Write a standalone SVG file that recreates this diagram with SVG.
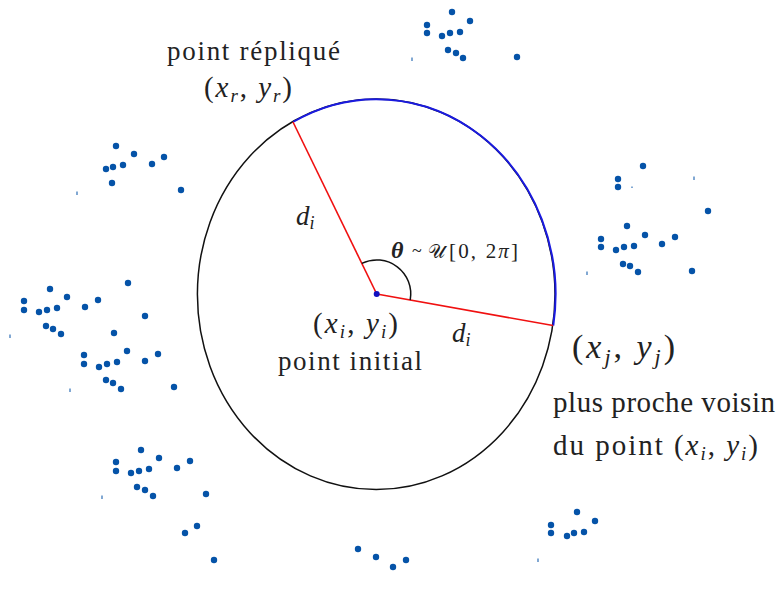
<svg xmlns="http://www.w3.org/2000/svg" width="777" height="598" viewBox="0 0 777 598">
<defs>
<style>
.t{font-family:"Liberation Serif","Times New Roman",serif;fill:#222}
.m{font-family:"Liberation Serif","Times New Roman",serif;font-style:italic;fill:#222}
.d{fill:#0553a8}
.k{fill:#0553a8}
</style>
</defs>
<rect width="777" height="598" fill="#fff"/>
<g id="circle">
<ellipse cx="376.2" cy="294.3" rx="178.8" ry="195.3" fill="none" stroke="#111" stroke-width="1.5"/>
<path d="M293,122 A178.8,195.3 0 0 1 553.3,325.5" fill="none" stroke="#1a1ae0" stroke-width="2"/>
</g>
<g id="connectors">
<line x1="376.7" y1="294" x2="293" y2="122" stroke="#f01010" stroke-width="1.6"/>
<line x1="376.7" y1="294" x2="553" y2="325.5" stroke="#f01010" stroke-width="1.6"/>
<path d="M361.8,263.4 A34,34 0 0 1 410.2,300" fill="none" stroke="#111" stroke-width="1.5"/>
</g>
<g id="center-point"><circle cx="376.7" cy="294" r="3" fill="#1010c0"/></g>
<g id="label-replique">
<text class="t" x="167" y="60" font-size="27" textLength="173" lengthAdjust="spacing">point répliqué</text>
<text class="t" x="204" y="97" font-size="29" textLength="88" lengthAdjust="spacing">(<tspan class="m">x</tspan><tspan class="m" font-size="19" dy="5">r</tspan><tspan dy="-5">, </tspan><tspan class="m">y</tspan><tspan class="m" font-size="19" dy="5">r</tspan><tspan dy="-5">)</tspan></text>
</g>
<g id="label-di-top">
<text class="m" x="296" y="225" font-size="27">d<tspan font-size="18" dy="4">i</tspan></text>
</g>
<g id="label-theta">
<text class="m" x="391" y="258" font-size="24" font-weight="bold">θ</text>
<text class="t" x="412" y="257" font-size="18" fill="#999">~</text>
<text class="t" x="428" y="258" font-size="19">𝒰</text>
<text class="t" x="449" y="258" font-size="21" textLength="69" lengthAdjust="spacing">[0, 2<tspan font-style="italic">π</tspan>]</text>
</g>
<g id="label-initial">
<text class="t" x="313" y="333" font-size="29" textLength="85" lengthAdjust="spacing">(<tspan class="m">x</tspan><tspan class="m" font-size="19" dy="5">i</tspan><tspan dy="-5">, </tspan><tspan class="m">y</tspan><tspan class="m" font-size="19" dy="5">i</tspan><tspan dy="-5">)</tspan></text>
<text class="t" x="278" y="370" font-size="27" textLength="144" lengthAdjust="spacing">point initial</text>
</g>
<g id="label-di-bottom">
<text class="m" x="452" y="342" font-size="27">d<tspan font-size="18" dy="4">i</tspan></text>
</g>
<g id="label-voisin">
<text class="t" x="572" y="358" font-size="34" textLength="103" lengthAdjust="spacing">(<tspan class="m">x</tspan><tspan class="m" font-size="22" dy="6">j</tspan><tspan dy="-6">, </tspan><tspan class="m">y</tspan><tspan class="m" font-size="22" dy="6">j</tspan><tspan dy="-6">)</tspan></text>
<text class="t" x="553" y="412" font-size="29" textLength="222" lengthAdjust="spacing">plus proche voisin</text>
<text class="t" x="553" y="455" font-size="29" textLength="205" lengthAdjust="spacing">du point (<tspan class="m">x</tspan><tspan class="m" font-size="19" dy="5">i</tspan><tspan dy="-5">, </tspan><tspan class="m">y</tspan><tspan class="m" font-size="19" dy="5">i</tspan><tspan dy="-5">)</tspan></text>
</g>
<g id="points">
<g class="d">
<circle cx="452" cy="12" r="3.2"/><circle cx="427" cy="25" r="3.2"/><circle cx="470" cy="21" r="3.2"/><circle cx="427" cy="33" r="3.2"/><circle cx="442" cy="36" r="3.2"/><circle cx="450" cy="33" r="3.2"/><circle cx="460" cy="32" r="3.2"/><circle cx="448" cy="50" r="3.2"/><circle cx="456" cy="53" r="3.2"/><circle cx="463" cy="58" r="3.2"/><circle cx="517" cy="57" r="3.2"/>
<circle cx="116" cy="146" r="3.2"/><circle cx="134" cy="154" r="3.2"/><circle cx="164" cy="157" r="3.2"/><circle cx="152" cy="164" r="3.2"/><circle cx="123" cy="165" r="3.2"/><circle cx="113" cy="167" r="3.2"/><circle cx="106" cy="169" r="3.2"/><circle cx="112" cy="183" r="3.2"/><circle cx="181" cy="190" r="3.2"/>
<circle cx="128" cy="283" r="3.2"/><circle cx="50" cy="289" r="3.2"/><circle cx="67" cy="297" r="3.2"/><circle cx="98" cy="300" r="3.2"/><circle cx="24" cy="301" r="3.2"/><circle cx="24" cy="310" r="3.2"/><circle cx="39" cy="312" r="3.2"/><circle cx="47" cy="310" r="3.2"/><circle cx="57" cy="308" r="3.2"/><circle cx="85" cy="307" r="3.2"/><circle cx="145" cy="316" r="3.2"/><circle cx="46" cy="326" r="3.2"/><circle cx="53" cy="329" r="3.2"/><circle cx="61" cy="334" r="3.2"/><circle cx="114" cy="333" r="3.2"/>
<circle cx="127" cy="351" r="3.2"/><circle cx="158" cy="354" r="3.2"/><circle cx="84" cy="355" r="3.2"/><circle cx="84" cy="364" r="3.2"/><circle cx="99" cy="367" r="3.2"/><circle cx="107" cy="364" r="3.2"/><circle cx="117" cy="362" r="3.2"/><circle cx="145" cy="361" r="3.2"/><circle cx="106" cy="380" r="3.2"/><circle cx="113" cy="383" r="3.2"/><circle cx="121" cy="389" r="3.2"/><circle cx="174" cy="387" r="3.2"/>
<circle cx="643" cy="166" r="3.2"/><circle cx="618" cy="179" r="3.2"/><circle cx="618" cy="187" r="3.2"/><circle cx="708" cy="211" r="3.2"/><circle cx="627" cy="226" r="3.2"/><circle cx="645" cy="235" r="3.2"/><circle cx="675" cy="237" r="3.2"/><circle cx="601" cy="239" r="3.2"/><circle cx="601" cy="247" r="3.2"/><circle cx="616" cy="250" r="3.2"/><circle cx="624" cy="247" r="3.2"/><circle cx="634" cy="246" r="3.2"/><circle cx="662" cy="244" r="3.2"/><circle cx="623" cy="264" r="3.2"/><circle cx="630" cy="266" r="3.2"/><circle cx="638" cy="272" r="3.2"/><circle cx="692" cy="271" r="3.2"/>
<circle cx="141" cy="450" r="3.2"/><circle cx="159" cy="458" r="3.2"/><circle cx="190" cy="461" r="3.2"/><circle cx="116" cy="462" r="3.2"/><circle cx="116" cy="471" r="3.2"/><circle cx="131" cy="473" r="3.2"/><circle cx="139" cy="471" r="3.2"/><circle cx="149" cy="469" r="3.2"/><circle cx="177" cy="468" r="3.2"/><circle cx="137" cy="487" r="3.2"/><circle cx="145" cy="490" r="3.2"/><circle cx="153" cy="496" r="3.2"/><circle cx="206" cy="494" r="3.2"/><circle cx="197" cy="526" r="3.2"/><circle cx="185" cy="533" r="3.2"/><circle cx="214" cy="560" r="3.2"/>
<circle cx="358" cy="549" r="3.2"/><circle cx="376" cy="557" r="3.2"/><circle cx="406" cy="560" r="3.2"/><circle cx="393" cy="567" r="3.2"/><circle cx="577" cy="512" r="3.2"/><circle cx="551" cy="525" r="3.2"/><circle cx="595" cy="521" r="3.2"/><circle cx="551" cy="533" r="3.2"/><circle cx="567" cy="536" r="3.2"/><circle cx="574" cy="533" r="3.2"/><circle cx="584" cy="532" r="3.2"/>
</g>
<g class="k">
<rect x="411.5" y="57.5" width="1" height="3.5"/><rect x="76.5" y="191.5" width="1" height="3.5"/><rect x="9.5" y="334.5" width="1" height="3.5"/><rect x="69.5" y="388.5" width="1" height="3.5"/><rect x="631.5" y="186.5" width="1" height="1.5"/><rect x="693.5" y="176.5" width="1" height="3.5"/><rect x="586.5" y="271.5" width="1" height="3.5"/><rect x="101.5" y="495.5" width="1" height="3.5"/><rect x="537.5" y="558.5" width="1" height="3.5"/>
</g>
</g>
</svg>
